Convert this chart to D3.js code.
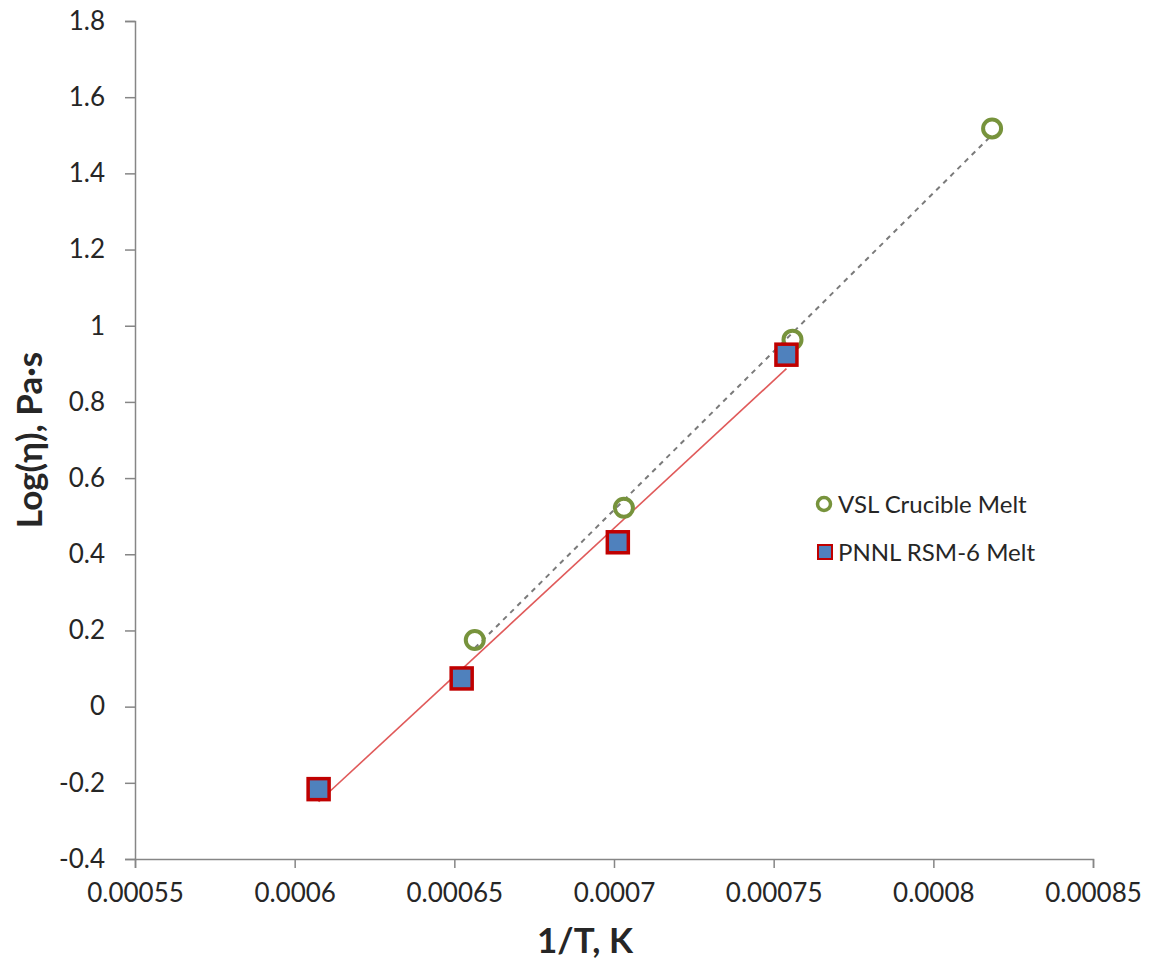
<!DOCTYPE html>
<html>
<head>
<meta charset="utf-8">
<script src="https://cdn.jsdelivr.net/npm/d3@7.9.0/dist/d3.min.js"></script>
<style>
  html, body { margin: 0; padding: 0; background: #fff; }
  svg text { font-family: Lato, "Open Sans", sans-serif; fill: #262626; }
</style>
</head>
<body>
<svg id="chart" width="1152" height="965"></svg>
<script>
// values
const vslX = [0.0006564, 0.0007031, 0.0007559, 0.0008184];
const vslY = [0.175, 0.522, 0.9635, 1.518];
const pnnlX = [0.0006075, 0.0006523, 0.0007012, 0.000754];
const pnnlY = [-0.2166, 0.074, 0.4315, 0.924];

const xTicks = [0.00055, 0.0006, 0.00065, 0.0007, 0.00075, 0.0008, 0.00085];
const yTicks = [-0.4, -0.2, 0, 0.2, 0.4, 0.6, 0.8, 1, 1.2, 1.4, 1.6, 1.8];

const seriesNames = ['VSL Crucible Melt', 'PNNL RSM-6 Melt'];

const svg = d3.select('#chart');
const axisColor = '#868686';

const x = d3.scaleLinear().domain([0.00055, 0.00085]).range([135, 1093]);
const y = d3.scaleLinear().domain([-0.4, 1.8]).range([859, 21]);

// least squares trendline, like the spreadsheet's linear fit
function fit(xs, ys) {
  const mx = d3.mean(xs), my = d3.mean(ys);
  const sxy = d3.sum(xs, (v, i) => (v - mx) * (ys[i] - my));
  const sxx = d3.sum(xs, (v) => (v - mx) * (v - mx));
  const b = sxy / sxx;
  const a = my - b * mx;
  const [x0, x1] = d3.extent(xs);
  return [[x0, a + b * x0], [x1, a + b * x1]];
}

// axes
const yAxis = d3.axisLeft(y).tickValues(yTicks).tickSize(10).tickPadding(20)
  .tickFormat((d) => String(+d.toFixed(1)));
const gy = svg.append('g').attr('transform', `translate(${x(0.00055)},0)`).call(yAxis);
gy.select('.domain').attr('stroke', axisColor).attr('stroke-width', 1.5);
gy.selectAll('.tick line').attr('stroke', axisColor).attr('stroke-width', 1.5);
gy.selectAll('.tick text').attr('font-size', 26).attr('fill', '#262626');

const xAxis = d3.axisBottom(x).tickValues(xTicks).tickSize(9).tickPadding(16)
  .tickFormat((d) => String(+d.toFixed(5)));
const gx = svg.append('g').attr('transform', `translate(0,${y(-0.4)})`).call(xAxis);
gx.select('.domain').attr('stroke', axisColor).attr('stroke-width', 1.5);
gx.selectAll('.tick line').attr('stroke', axisColor).attr('stroke-width', 1.5);
gx.selectAll('.tick text').attr('font-size', 26).attr('fill', '#262626');

// axis titles
svg.append('text')
  .attr('transform', `translate(42,${y(0.7)}) rotate(-90)`)
  .attr('text-anchor', 'middle')
  .attr('font-size', 35).attr('font-weight', 'bold')
  .text('Log(η), Pa·s');

svg.append('text')
  .attr('x', 585).attr('y', 953)
  .attr('text-anchor', 'middle')
  .attr('font-size', 35).attr('font-weight', 'bold')
  .text('1/T, K');

// trendlines
const line = d3.line().x((d) => x(d[0])).y((d) => y(d[1]));
svg.append('path').attr('d', line(fit(pnnlX, pnnlY)))
  .attr('stroke', '#e05a5a').attr('stroke-width', 1.6).attr('fill', 'none');
svg.append('path').attr('d', line(fit(vslX, vslY)))
  .attr('stroke', '#7a7a7a').attr('stroke-width', 2).attr('stroke-dasharray', '5,5')
  .attr('fill', 'none');

// markers
svg.append('g').selectAll('circle').data(vslX).join('circle')
  .attr('cx', (d) => x(d)).attr('cy', (d, i) => y(vslY[i])).attr('r', 9)
  .attr('fill', 'none').attr('stroke', '#77933c').attr('stroke-width', 4);

const sq = 21;
svg.append('g').selectAll('rect').data(pnnlX).join('rect')
  .attr('x', (d) => x(d) - sq / 2).attr('y', (d, i) => y(pnnlY[i]) - sq / 2)
  .attr('width', sq).attr('height', sq)
  .attr('fill', '#4f81bd').attr('stroke', '#c00000').attr('stroke-width', 3.5);

// legend
const legend = svg.append('g');
legend.append('circle').attr('cx', 824).attr('cy', 504).attr('r', 6.5)
  .attr('fill', 'none').attr('stroke', '#77933c').attr('stroke-width', 3.5);
legend.append('rect').attr('x', 818).attr('y', 545).attr('width', 14).attr('height', 14)
  .attr('fill', '#4f81bd').attr('stroke', '#c00000').attr('stroke-width', 2);
legend.selectAll('text.lg').data(seriesNames).join('text')
  .attr('class', 'lg')
  .attr('x', 838).attr('y', (d, i) => 504 + i * 48)
  .attr('dy', '0.36em')
  .attr('font-size', 24)
  .text((d) => d);
</script>
</body>
</html>
